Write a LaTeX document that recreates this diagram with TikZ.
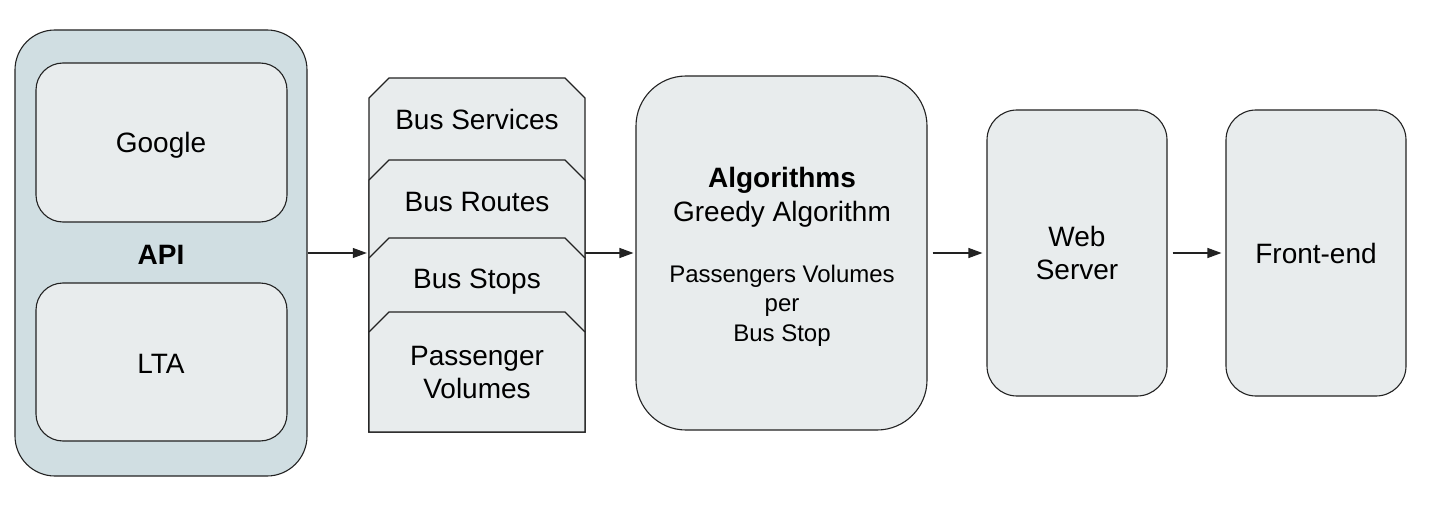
\documentclass[tikz,border=0pt]{standalone}
\usepackage{fontspec}
\setmainfont{Liberation Sans}
\usetikzlibrary{arrows.meta}
\definecolor{outerfill}{HTML}{D0DEE2}
\definecolor{innerfill}{HTML}{E8ECED}
\definecolor{edgecol}{HTML}{222222}
\begin{document}
\begin{tikzpicture}[x=1pt,y=-1pt,
  box/.style={draw=edgecol, line width=1.1pt, fill=innerfill, inner sep=0pt},
  big/.style={font=\fontsize{28}{33}\selectfont, anchor=base, inner sep=0pt},
  small/.style={font=\fontsize{24}{29}\selectfont, anchor=base, inner sep=0pt},
  conn/.style={draw=edgecol, line width=1.1pt, -{Triangle[length=14pt,width=10pt]}},
  card/.style={draw=edgecol, line width=1.1pt, fill=innerfill, line join=miter}]
\useasboundingbox (0,0) rectangle (1439,505);

% API group
\node[box, fill=outerfill, rounded corners=40pt, minimum width=292pt, minimum height=446pt] (api) at (161,253) {};
\node[box, rounded corners=27pt, minimum width=251pt, minimum height=159pt] (google) at (161.5,142.5) {};
\node[box, rounded corners=27pt, minimum width=251pt, minimum height=158pt] (lta) at (161.5,362) {};
\node[big] (tgoogle) at (161,153) {Google};
\node[big] (tlta) at (161,373) {LTA};
\node[big, font=\fontsize{28}{33}\selectfont\bfseries] (tapi) at (161,264) {API};

% stacked data cards
\node[inner sep=0pt, minimum width=216pt, minimum height=354pt] (stack) at (477,255) {};
\path[card] (369,98) -- (389,78) -- (565,78) -- (585,98) -- (585,432) -- (369,432) -- cycle;
\path[card] (369,180) -- (389,160) -- (565,160) -- (585,180) -- (585,432) -- (369,432) -- cycle;
\path[card] (369,258) -- (389,238) -- (565,238) -- (585,258) -- (585,432) -- (369,432) -- cycle;
\path[card] (369,332) -- (389,312) -- (565,312) -- (585,332) -- (585,432) -- (369,432) -- cycle;
\node[big] (tservices) at (477,130) {Bus Services};
\node[big] (troutes) at (477,211.5) {Bus Routes};
\node[big] (tstops) at (477,288) {Bus Stops};
\node[big] (tpass1) at (477,365) {Passenger};
\node[big] (tpass2) at (477,398) {Volumes};

% algorithms
\node[box, rounded corners=50pt, minimum width=291pt, minimum height=354pt] (algo) at (781.5,253) {};
\node[big, font=\fontsize{28}{33}\selectfont\bfseries] (talgo) at (782,187.5) {Algorithms};
\node[big] (tgreedy) at (782,221) {Greedy Algorithm};
\node[small] (tpv) at (782,282.5) {Passengers Volumes};
\node[small] (tper) at (782,311.5) {per};
\node[small] (tbs) at (782,341) {Bus Stop};

% web server and front-end
\node[box, rounded corners=30pt, minimum width=180pt, minimum height=286pt] (web) at (1077,253) {};
\node[big] (tweb) at (1077,246.5) {Web};
\node[big] (tserver) at (1077,279.5) {Server};
\node[box, rounded corners=30pt, minimum width=180pt, minimum height=286pt] (front) at (1316,253) {};
\node[big] (tfront) at (1316,263.5) {Front-end};

% connectors
\draw[conn, shorten >=2pt] (api.east) -- (api.east -| stack.west);
\draw[conn, shorten >=2pt] (stack.east |- algo.west) -- (algo.west);
\draw[conn, shorten <=5pt, shorten >=4pt] (algo.east) -- (web.west);
\draw[conn, shorten <=5pt, shorten >=4pt] (web.east) -- (front.west);
\end{tikzpicture}
\end{document}
